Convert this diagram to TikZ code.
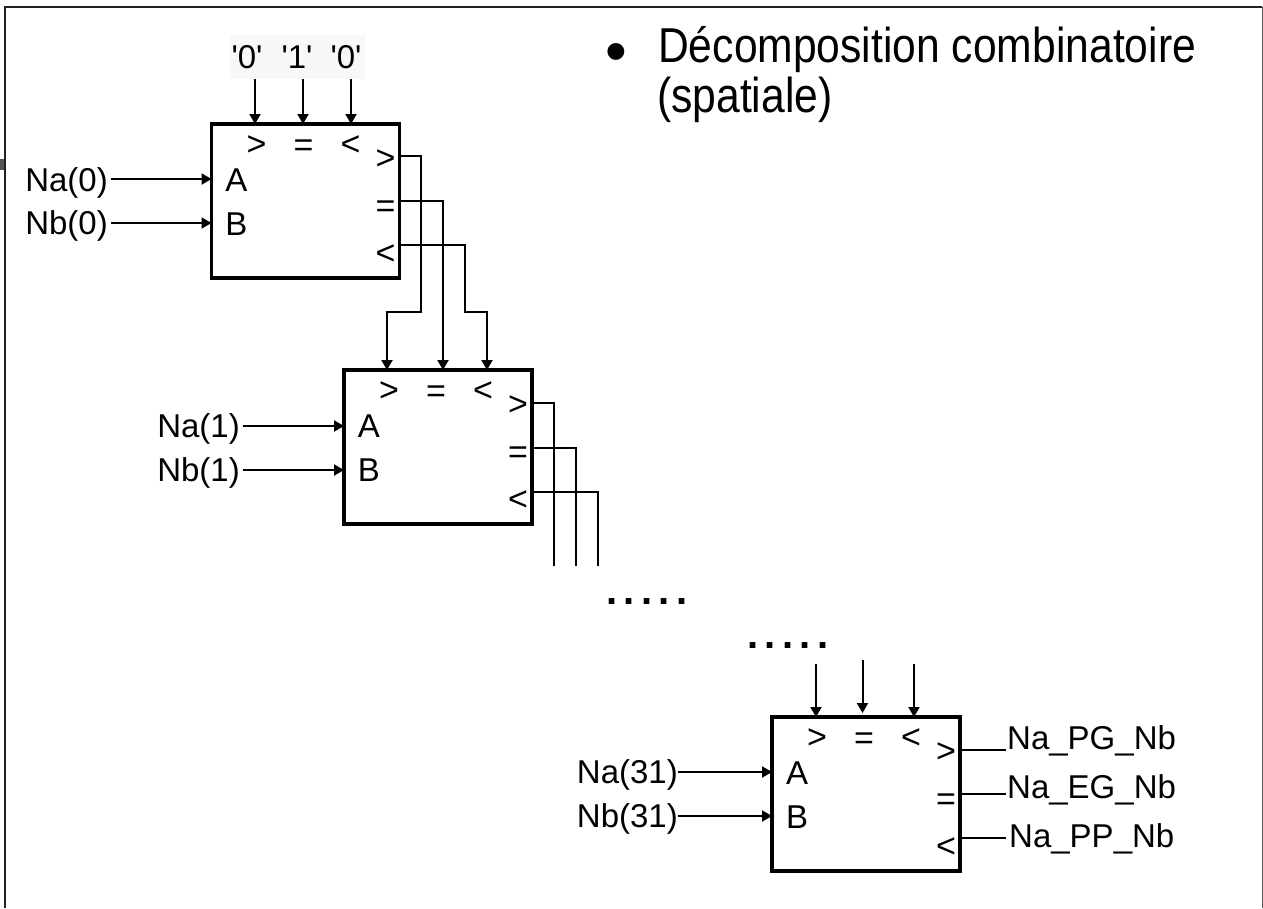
\documentclass[tikz,border=0pt]{standalone}
\usepackage{fontspec}
\setmainfont{Liberation Sans}
\newfontfamily\titlefont[FakeStretch=0.87]{Liberation Sans}
\usepackage{xcolor}
\usetikzlibrary{arrows.meta}
\definecolor{frameline}{HTML}{222222}
\definecolor{sidegrey}{HTML}{555555}
\definecolor{pale}{HTML}{F8F8F8}
\tikzset{
  frm/.style={draw=frameline, line width=2pt},
  blk/.style={draw=black, line width=3.6pt, minimum width=188pt, minimum height=154pt, inner sep=0pt, outer sep=0pt, anchor=north west},
  wire/.style={draw=black, line width=2pt},
  sig/.style={wire, -{Triangle[width=11pt,length=10pt]}},
  lab/.style={inner sep=0pt, font=\fontsize{33}{33}\selectfont},
  sym/.style={inner sep=0pt, font=\fontsize{34}{34}\selectfont},
  ttl/.style={inner sep=0pt, anchor=base west, font=\titlefont\fontsize{49}{49}\selectfont},
  gap/.style={inner sep=0pt, anchor=west, font=\bfseries\fontsize{40}{40}\selectfont\addfontfeature{LetterSpace=16}},
}
\begin{document}
\begin{tikzpicture}[x=1pt,y=-1pt]
  \useasboundingbox (0,0) rectangle (1263,908);
  % frame
  \draw[frm] (4.5,908) -- (4.5,6.5) -- (1262,6.5);
  \draw[draw=sidegrey, line width=1pt] (1262,6.5) -- (1262,908);
  \fill[sidegrey] (0,159) rectangle (3.5,170);
  % title
  \node[inner sep=0pt, font=\fontsize{62}{62}\selectfont] (bullet) at (616,58) {•};
  \node[ttl] (ttla) at (658,62) {Décomposition combinatoire};
  \node[ttl] (ttlb) at (657,112) {(spatiale)};
  % blocks
  \foreach \n/\x/\y in {a/211.5/124, b/344/370, c/772/717} {
    \node[blk] (box\n) at (\x,\y) {};
    \node[sym] (ingt\n) at (\x+45,\y+22) {>};
    \node[sym] (ineq\n) at (\x+92,\y+24) {=};
    \node[sym] (inlt\n) at (\x+139,\y+22) {<};
    \node[sym] (outgt\n) at (\x+174,\y+36) {>};
    \node[sym] (outeq\n) at (\x+174,\y+85) {=};
    \node[sym] (outlt\n) at (\x+174,\y+131) {<};
    \node[lab] (pa\n) at (\x+25,\y+56) {A};
    \node[lab] (pb\n) at (\x+25,\y+100) {B};
  }
  % first block
  \fill[pale] (230,35) rectangle (365,79);
  \node[lab] (va) at (247,57) {\textquotesingle 0\textquotesingle};
  \node[lab] (vb) at (297,57) {\textquotesingle 1\textquotesingle};
  \node[lab] (vc) at (346,57) {\textquotesingle 0\textquotesingle};
  \coordinate (ta) at (255,79);
  \coordinate (tb) at (303,79);
  \coordinate (tc) at (351,79);
  \draw[sig] (ta) -- (ta |- boxa.north);
  \draw[sig] (tb) -- (tb |- boxa.north);
  \draw[sig] (tc) -- (tc |- boxa.north);
  \node[lab, anchor=base east] (naa) at (108,191) {Na(0)};
  \node[lab, anchor=base east] (nba) at (108,234.5) {Nb(0)};
  \draw[sig] (111,179) coordinate (pina) -- (pina -| boxa.west);
  \draw[sig] (111,223) coordinate (pinb) -- (pinb -| boxa.west);
  % first to second
  \coordinate (ga) at (399,156);
  \coordinate (ea) at (399,201);
  \coordinate (la) at (399,245);
  \coordinate (ma) at (387,312);
  \coordinate (mb) at (443,312);
  \coordinate (mc) at (487,312);
  \draw[sig] (ga) -| (421,312) -- (ma) -- (ma |- boxb.north);
  \draw[sig] (ea) -| (mb |- boxb.north);
  \draw[sig] (la) -| (465,312) -- (mc) -- (mc |- boxb.north);
  % second block
  \node[lab, anchor=base east] (nab) at (240,437) {Na(1)};
  \node[lab, anchor=base east] (nbb) at (240,481) {Nb(1)};
  \draw[sig] (243,426) coordinate (pinc) -- (pinc -| boxb.west);
  \draw[sig] (243,470) coordinate (pind) -- (pind -| boxb.west);
  \draw[wire] (532,403) -| (554,566);
  \draw[wire] (532,448) -| (576,566);
  \draw[wire] (532,492) -| (598,566);
  \node[gap] (gapa) at (606,602) {.....};
  \node[gap] (gapb) at (747,646) {.....};
  % last block
  \coordinate (td) at (816,664);
  \coordinate (te) at (862.5,660);
  \coordinate (tf) at (914,664);
  \draw[sig] (td) -- (td |- boxc.north);
  \draw[sig] (te) -- (862.5,713);
  \draw[sig] (tf) -- (tf |- boxc.north);
  \node[lab, anchor=base east] (nac) at (678,783) {Na(31)};
  \node[lab, anchor=base east] (nbc) at (678,827) {Nb(31)};
  \draw[sig] (678,772) coordinate (pine) -- (pine -| boxc.west);
  \draw[sig] (678,816) coordinate (pinf) -- (pinf -| boxc.west);
  \node[lab, anchor=base west] (pg) at (1007,749) {Na\_PG\_Nb};
  \node[lab, anchor=base west] (eg) at (1007,798) {Na\_EG\_Nb};
  \node[lab, anchor=base west] (pp) at (1009,847) {Na\_PP\_Nb};
  \draw[wire] (960,750) coordinate (oga) -- (1006,750);
  \draw[wire] (960,794) coordinate (oea) -- (1006,794);
  \draw[wire] (960,838) coordinate (ola) -- (1006,838);
\end{tikzpicture}
\end{document}
